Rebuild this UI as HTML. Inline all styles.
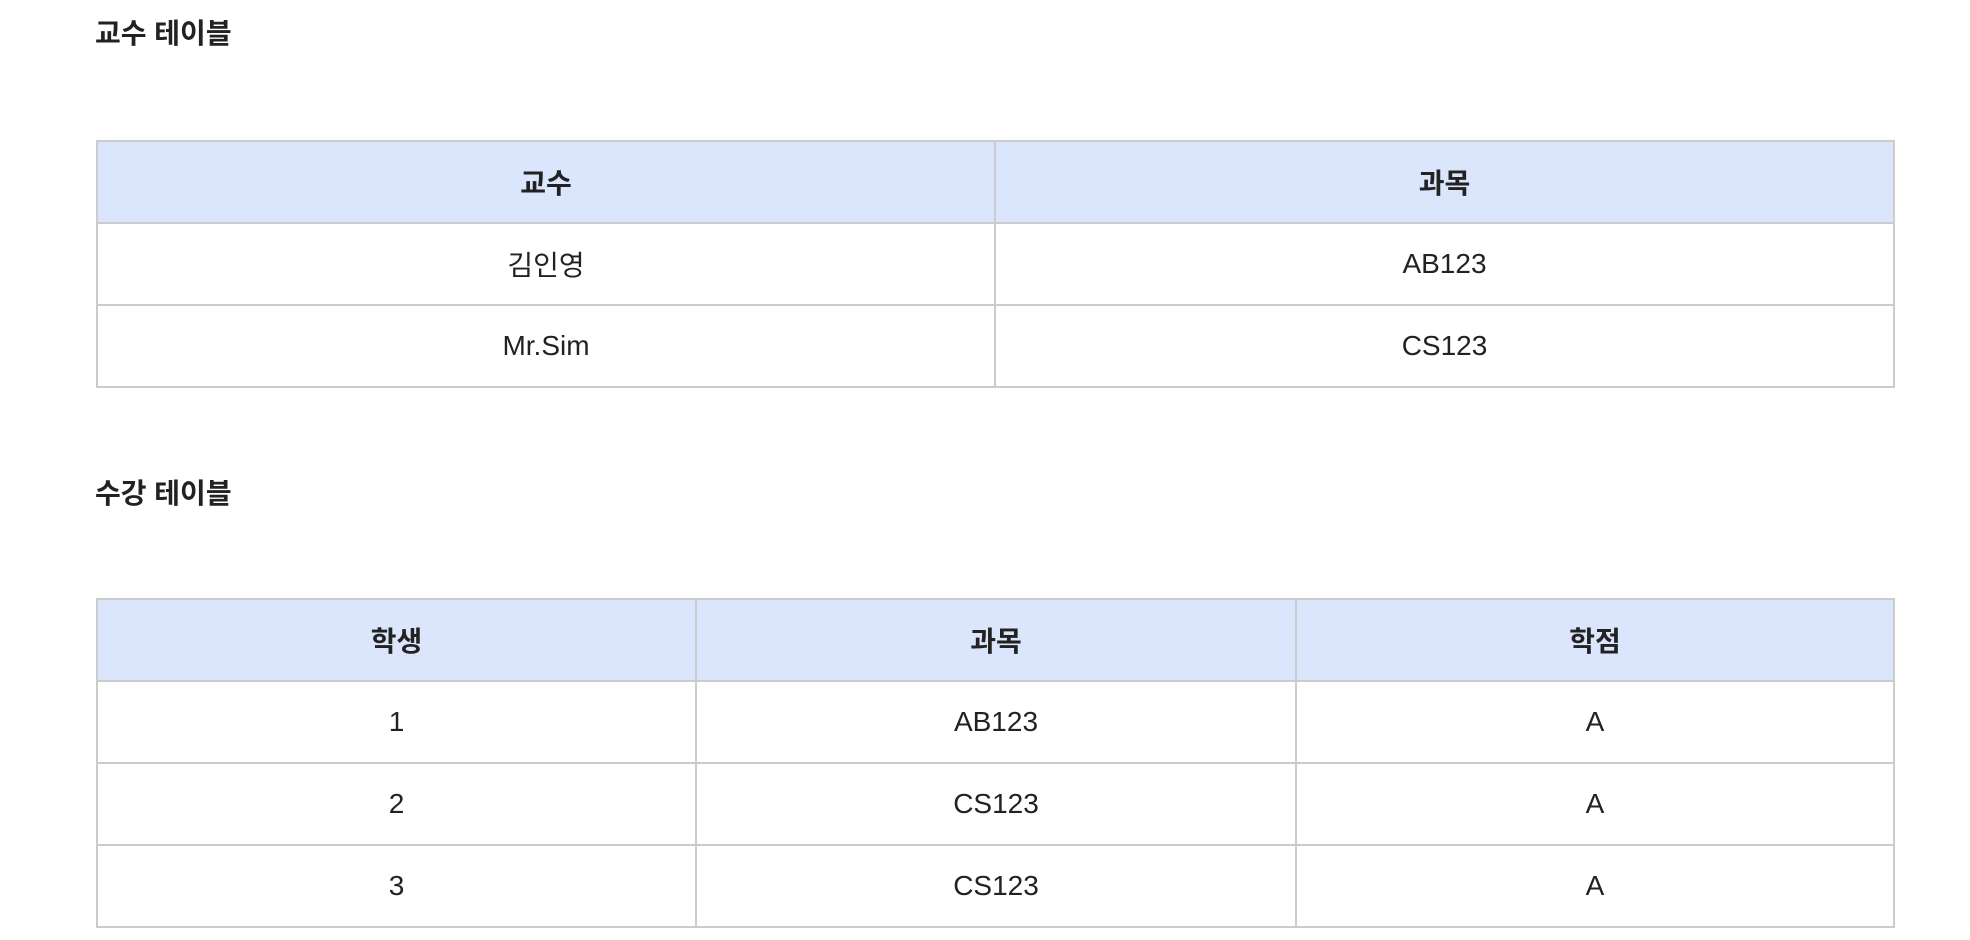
<!DOCTYPE html>
<html><head><meta charset="utf-8"><style>
html,body{margin:0;padding:0;background:#fff;width:1970px;height:940px;overflow:hidden}
body{font-family:"Liberation Sans","Noto Sans CJK KR",sans-serif;color:#222;position:relative}
h2{position:absolute;left:95px;margin:0;font-size:28px;font-weight:700;line-height:36px}
table{position:absolute;left:96px;width:1799px;border-collapse:collapse;table-layout:fixed}
td,th{border:2px solid #ccc;text-align:center;font-size:28px;height:80px;padding:0}
th{background:#dbe5fc;font-weight:700}
td{font-weight:400}
</style></head><body>
<h2 style="top:16px">교수 테이블</h2>
<table style="top:140px">
<colgroup><col style="width:898px"><col></colgroup>
<tr><th>교수</th><th>과목</th></tr>
<tr><td>김인영</td><td>AB123</td></tr>
<tr><td>Mr.Sim</td><td>CS123</td></tr>
</table>
<h2 style="top:476px">수강 테이블</h2>
<table style="top:598px">
<colgroup><col style="width:599px"><col style="width:600px"><col></colgroup>
<tr><th>학생</th><th>과목</th><th>학점</th></tr>
<tr><td>1</td><td>AB123</td><td>A</td></tr>
<tr><td>2</td><td>CS123</td><td>A</td></tr>
<tr><td>3</td><td>CS123</td><td>A</td></tr>
</table>
</body></html>
